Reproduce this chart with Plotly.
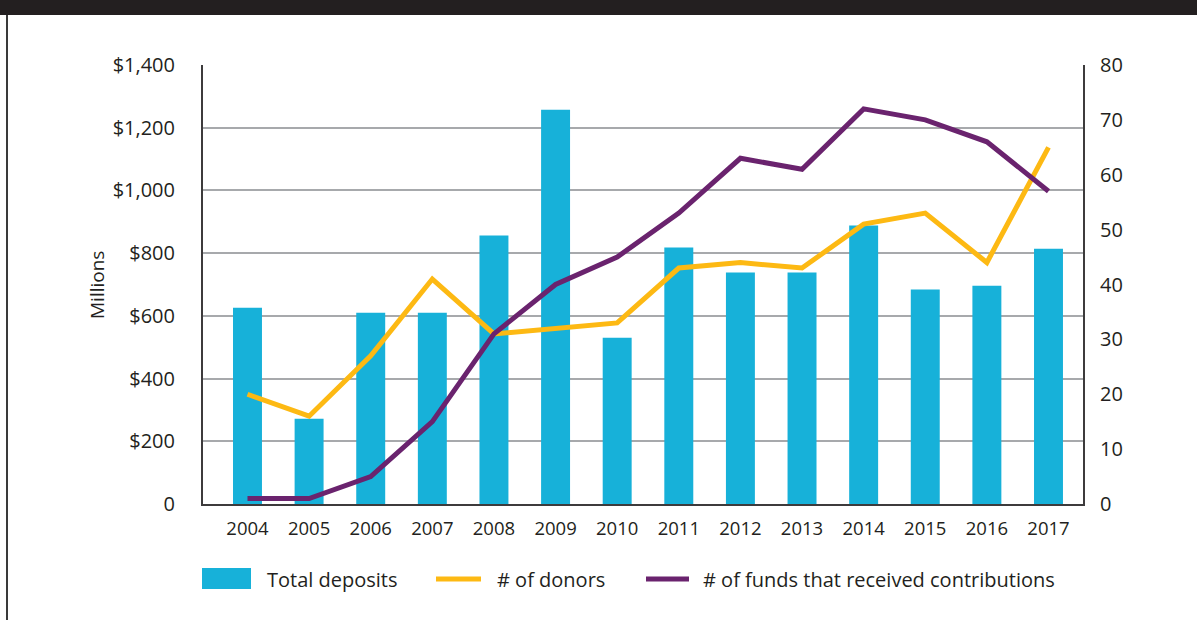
import plotly.graph_objects as go

# ---- data -------------------------------------------------------------
years = ["2004", "2005", "2006", "2007", "2008", "2009", "2010",
         "2011", "2012", "2013", "2014", "2015", "2016", "2017"]
total_deposits = [626, 272, 610, 610, 856, 1257, 530, 818, 738, 738, 888, 684, 696, 814]
donors = [20, 16, 27, 41, 31, 32, 33, 43, 44, 43, 51, 53, 44, 65]
funds_receiving = [1, 1, 5, 15, 31, 40, 45, 53, 63, 61, 72, 70, 66, 57]

left_tick_vals = [0, 200, 400, 600, 800, 1000, 1200, 1400]
left_tick_text = ["0", "$200", "$400", "$600", "$800", "$1,000", "$1,200", "$1,400"]
right_tick_vals = [0, 10, 20, 30, 40, 50, 60, 70, 80]

series_names = ["Total deposits", "# of donors", "# of funds that received contributions"]

# ---- style ------------------------------------------------------------
W, H = 1197, 620
ML, MR, MT, MB = 203, 114, 65, 116
BAR_C = "#17b1d9"
DONOR_C = "#fdb913"
FUND_C = "#6a236e"
GRID_C = "#a7a9ac"
AXIS_C = "#3d3b3c"
TEXT_C = "#231f20"
FONT = "Open Sans"

plot_w = W - ML - MR
plot_h = H - MT - MB


def px_x(x):
    return (x - ML) / plot_w


def px_y(y):
    return (H - MB - y) / plot_h


fig = go.Figure()
fig.add_trace(go.Bar(x=years, y=total_deposits, name=series_names[0],
                     marker=dict(color=BAR_C, line=dict(width=0)), width=0.47,
                     yaxis="y"))
fig.add_trace(go.Scatter(x=years, y=donors, name=series_names[1], mode="lines",
                         line=dict(color=DONOR_C, width=5), yaxis="y2"))
fig.add_trace(go.Scatter(x=years, y=funds_receiving, name=series_names[2], mode="lines",
                         line=dict(color=FUND_C, width=5), yaxis="y2"))

fig.update_layout(
    width=W, height=H,
    margin=dict(l=ML, r=MR, t=MT, b=MB, pad=0),
    paper_bgcolor="white", plot_bgcolor="white",
    showlegend=False,
    font=dict(family=FONT, size=20, color=TEXT_C),
    xaxis=dict(type="category", range=[-0.722, 13.56], showgrid=False,
               showline=True, linecolor=AXIS_C, linewidth=2, ticks="",
               tickfont=dict(size=18.5), ticklabelstandoff=7, zeroline=False),
    yaxis=dict(range=[0, 1400], tickvals=left_tick_vals, ticktext=left_tick_text,
               showgrid=True, gridcolor=GRID_C, gridwidth=1.6,
               showline=True, linecolor=AXIS_C, linewidth=2, ticks="",
               ticklabelstandoff=22, zeroline=False),
    yaxis2=dict(range=[0, 80], tickvals=right_tick_vals, overlaying="y", side="right",
                showgrid=False, showline=True, linecolor=AXIS_C, linewidth=2,
                ticks="", ticklabelstandoff=11, zeroline=False),
)

# y-axis caption
fig.add_annotation(text="Millions", xref="paper", yref="paper",
                   x=px_x(97), y=px_y(285), textangle=-90, showarrow=False,
                   font=dict(size=19), xanchor="center", yanchor="middle")

# frame: dark header band and left rule
fig.add_shape(type="rect", xref="paper", yref="paper",
              x0=px_x(0), x1=px_x(W), y0=px_y(15), y1=px_y(0),
              fillcolor="#231f20", line=dict(width=0), layer="above")
fig.add_shape(type="line", xref="paper", yref="paper",
              x0=px_x(7), x1=px_x(7), y0=px_y(15), y1=px_y(H),
              line=dict(color="#3a3a3a", width=2))

# legend row
leg_y = 579
fig.add_shape(type="rect", xref="paper", yref="paper",
              x0=px_x(202), x1=px_x(251), y0=px_y(589), y1=px_y(568),
              fillcolor=BAR_C, line=dict(width=0))
fig.add_shape(type="line", xref="paper", yref="paper",
              x0=px_x(436), x1=px_x(481), y0=px_y(leg_y), y1=px_y(leg_y),
              line=dict(color=DONOR_C, width=5))
fig.add_shape(type="line", xref="paper", yref="paper",
              x0=px_x(646), x1=px_x(689), y0=px_y(leg_y), y1=px_y(leg_y),
              line=dict(color=FUND_C, width=5))
for name, xpos in zip(series_names, [265, 495, 701]):
    fig.add_annotation(text=name, xref="paper", yref="paper",
                       x=px_x(xpos), y=px_y(leg_y), showarrow=False,
                       xanchor="left", yanchor="middle", font=dict(size=20))

fig.write_html("out.html")
